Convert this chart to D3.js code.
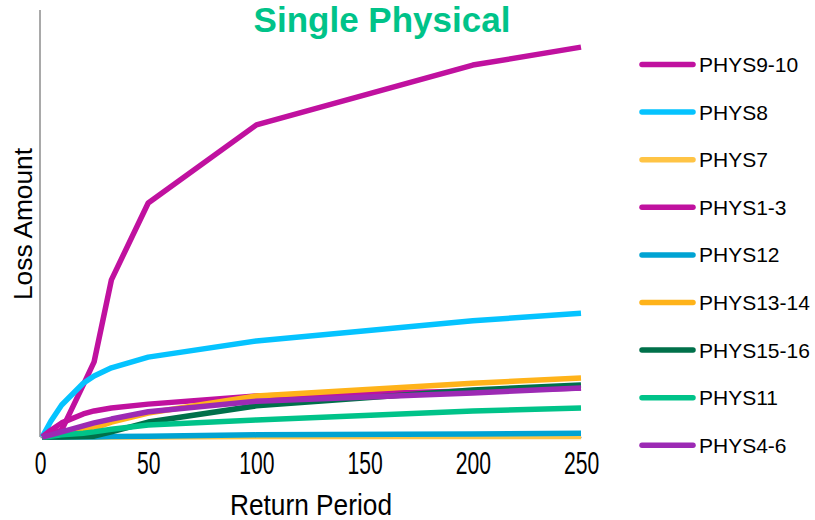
<!DOCTYPE html>
<html>
<head>
<meta charset="utf-8">
<script src="https://cdn.jsdelivr.net/npm/d3@7"></script>
<style>
  html, body { margin: 0; padding: 0; background: #fff; }
  svg { display: block; font-family: "Liberation Sans", Arial, sans-serif; }
</style>
</head>
<body>
<svg id="chart" width="815" height="520"></svg>
<script>
const returnPeriods = [1, 5, 10, 20, 25, 33, 50, 100, 200, 250];
const seriesNames = ["PHYS9-10", "PHYS8", "PHYS7", "PHYS1-3", "PHYS12", "PHYS13-14", "PHYS15-16", "PHYS11", "PHYS4-6"];
const phys9_10  = [0, 7, 16, 122, 176, 368, 548, 731, 871, 913];
const phys8     = [0, 37, 75, 126, 143, 162, 187, 225, 272, 290];
const phys7     = [0, 0, 0, 0, 0, 0, 0, 1, 1, 1];
const phys1_3   = [0, 16, 33, 54, 61, 68, 77, 96, 108, 115];
const phys12    = [0, 0, 0, 0, 0, 1, 2, 5, 7, 9];
const phys13_14 = [0, 2, 7, 16, 21, 35, 56, 96, 126, 138];
const phys15_16 = [0, 0, 0, 1, 2, 12, 35, 73, 110, 122];
const phys11    = [0, 2, 5, 9, 12, 18, 28, 40, 61, 68];
const phys4_6   = [0, 5, 12, 26, 33, 42, 59, 84, 103, 115];
const xTicks = [0, 50, 100, 150, 200, 250];
const seriesValues = [phys9_10, phys8, phys7, phys1_3, phys12, phys13_14, phys15_16, phys11, phys4_6];
const colors = ["#c0119f", "#05c3ff", "#ffc445", "#c0119f", "#00a3d3", "#ffb31a", "#00704a", "#00c389", "#9c2ab4"];

const svg = d3.select("#chart");
const x = d3.scaleLinear().domain([0, 250]).range([40, 581]);
const y = d3.scaleLinear().domain([0, 1000]).range([437, 10]);

// y axis line
svg.append("line")
  .attr("x1", 40).attr("x2", 40).attr("y1", y(1000)).attr("y2", y(0))
  .attr("stroke", "#8c8c8c").attr("stroke-width", 1.5);

// x axis
const xAxis = svg.append("g")
  .attr("transform", `translate(0,${y(0)})`)
  .call(d3.axisBottom(x).tickValues(xTicks).tickSize(0).tickPadding(15).tickFormat(d3.format("d")));
xAxis.select(".domain").attr("stroke", "#8c8c8c").attr("stroke-width", 1.5);
xAxis.selectAll("text")
  .attr("font-size", 32)
  .attr("font-family", "'Liberation Sans', Arial, sans-serif")
  .attr("fill", "#000")
  .attr("transform", "scale(0.66,1)")
  .attr("dy", "0.71em")
  .attr("y", 14);

// lines
const line = d3.line()
  .x((d, i) => x(returnPeriods[i]))
  .y(d => y(d));

seriesValues.forEach((vals, k) => {
  svg.append("path")
    .datum(vals)
    .attr("d", line)
    .attr("fill", "none")
    .attr("stroke", colors[k])
    .attr("stroke-width", 5.5)
    .attr("stroke-linejoin", "round");
});

// title
svg.append("text")
  .attr("x", 382).attr("y", 32)
  .attr("text-anchor", "middle")
  .attr("font-size", 35)
  .attr("font-weight", "bold")
  .attr("fill", "#00c389")
  .text("Single Physical");

// axis titles
svg.append("text")
  .attr("x", 311).attr("y", 515)
  .attr("text-anchor", "middle")
  .attr("font-size", 29)
  .attr("textLength", 162)
  .attr("lengthAdjust", "spacingAndGlyphs")
  .attr("fill", "#000")
  .text("Return Period");

svg.append("text")
  .attr("transform", "translate(32,224) rotate(-90)")
  .attr("text-anchor", "middle")
  .attr("font-size", 26)
  .attr("textLength", 152)
  .attr("lengthAdjust", "spacingAndGlyphs")
  .attr("fill", "#000")
  .text("Loss Amount");

// legend
const legend = svg.append("g");
seriesNames.forEach((name, k) => {
  const cy = 64.5 + k * 47.6;
  legend.append("line")
    .attr("x1", 642).attr("x2", 693).attr("y1", cy).attr("y2", cy)
    .attr("stroke", colors[k]).attr("stroke-width", 5.5)
    .attr("stroke-linecap", "round");
  legend.append("text")
    .attr("x", 699).attr("y", cy + 7.5)
    .attr("font-size", 21)
    .attr("fill", "#000")
    .text(name);
});
</script>
</body>
</html>
